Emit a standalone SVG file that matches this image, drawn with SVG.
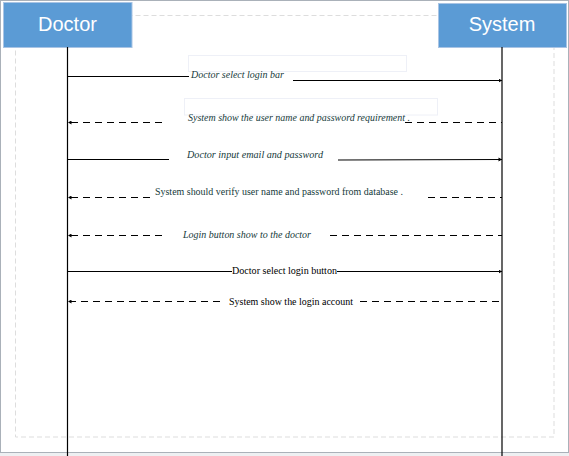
<svg xmlns="http://www.w3.org/2000/svg" width="569" height="456" viewBox="0 0 569 456">
<style>
.actor{fill:#5B9BD5;stroke:#a9c4e4;stroke-width:1}
.actorText{font-family:"Liberation Sans",Arial,sans-serif;font-size:20px;fill:#ffffff}
.life{stroke:#000;stroke-width:1.2;fill:none}
.msg{stroke:#000;stroke-width:1;fill:none}
.dash{stroke-dasharray:7 5}
.lbl{font-family:"Liberation Serif","Times New Roman",serif;font-size:10px;fill:#153a3a}
.it{font-style:italic}
.blk{fill:#000}
.lblbox{fill:none;stroke:#eef0f7;stroke-width:1}
</style>
<defs>
<marker id="ar" markerWidth="4" markerHeight="4" refX="3.5" refY="2" orient="auto" markerUnits="userSpaceOnUse">
<path d="M0,0 L3.5,2 L0,4 Z" fill="#000"/>
</marker>
</defs>
<rect x="0" y="0" width="569" height="456" fill="#ffffff"/>
<rect x="0.5" y="0.5" width="568" height="452" fill="none" stroke="#aab1b9" stroke-width="1"/>
<rect x="0" y="453" width="569" height="3" fill="#eef0f2"/>
<rect x="15.5" y="15.5" width="538.5" height="421.5" fill="none" stroke="#dddddd" stroke-width="1" stroke-dasharray="5 3"/>
<rect class="lblbox" x="188.5" y="55.5" width="218" height="16"/>
<rect class="lblbox" x="184.5" y="98.5" width="253" height="16.5"/>
<g id="doctor">
<rect class="actor" x="3.5" y="2.5" width="128.5" height="45"/>
<text class="actorText" x="67.5" y="31" text-anchor="middle">Doctor</text>
<line class="life" x1="67.5" y1="47" x2="67.5" y2="456"/>
</g>
<g id="system">
<rect class="actor" x="438.5" y="3.5" width="128" height="44"/>
<text class="actorText" x="502" y="31" text-anchor="middle">System</text>
<line class="life" x1="502" y1="47" x2="502" y2="456"/>
</g>
<g id="connectors">
<line class="msg" x1="67.5" y1="76.5" x2="189" y2="76.5"/>
<line class="msg" x1="293" y1="80.5" x2="502" y2="80.5" marker-end="url(#ar)"/>
<line class="msg dash" x1="162" y1="122.5" x2="68" y2="122.5" marker-end="url(#ar)"/>
<line class="msg dash" x1="405" y1="122.5" x2="502" y2="122.5"/>
<line class="msg" x1="67.5" y1="159.5" x2="169" y2="159.5"/>
<line class="msg" x1="338" y1="160" x2="502" y2="159.5" marker-end="url(#ar)"/>
<line class="msg dash" x1="150" y1="197.5" x2="68" y2="197.5" marker-end="url(#ar)"/>
<line class="msg dash" x1="428" y1="197.5" x2="502" y2="197.5"/>
<line class="msg dash" x1="162" y1="235.5" x2="68" y2="235.5" marker-end="url(#ar)"/>
<line class="msg dash" x1="330" y1="235.5" x2="502" y2="235.5"/>
<line class="msg" x1="67.5" y1="271.5" x2="232" y2="271.5"/>
<line class="msg" x1="337" y1="271.5" x2="502" y2="271.5" marker-end="url(#ar)"/>
<line class="msg dash" x1="220" y1="301.5" x2="68" y2="301.5" marker-end="url(#ar)"/>
<line class="msg dash" x1="360" y1="301.5" x2="502" y2="301.5"/>
</g>
<g id="labels">
<text class="lbl it" x="191" y="78" textLength="93" lengthAdjust="spacingAndGlyphs">Doctor select login bar</text>
<text class="lbl it" x="188" y="121" textLength="222" lengthAdjust="spacingAndGlyphs">System show the user name and password requirement .</text>
<text class="lbl it" x="187" y="158" textLength="136" lengthAdjust="spacingAndGlyphs">Doctor input email and password</text>
<text class="lbl" x="155" y="195" textLength="248" lengthAdjust="spacingAndGlyphs">System should verify user name and password from database .</text>
<text class="lbl it" x="183" y="238" textLength="128" lengthAdjust="spacingAndGlyphs">Login button show to the doctor</text>
<text class="lbl blk" x="232" y="274" textLength="105" lengthAdjust="spacingAndGlyphs">Doctor select login button</text>
<text class="lbl blk" x="229" y="305" textLength="124" lengthAdjust="spacingAndGlyphs">System show the login account</text>
</g>
</svg>
